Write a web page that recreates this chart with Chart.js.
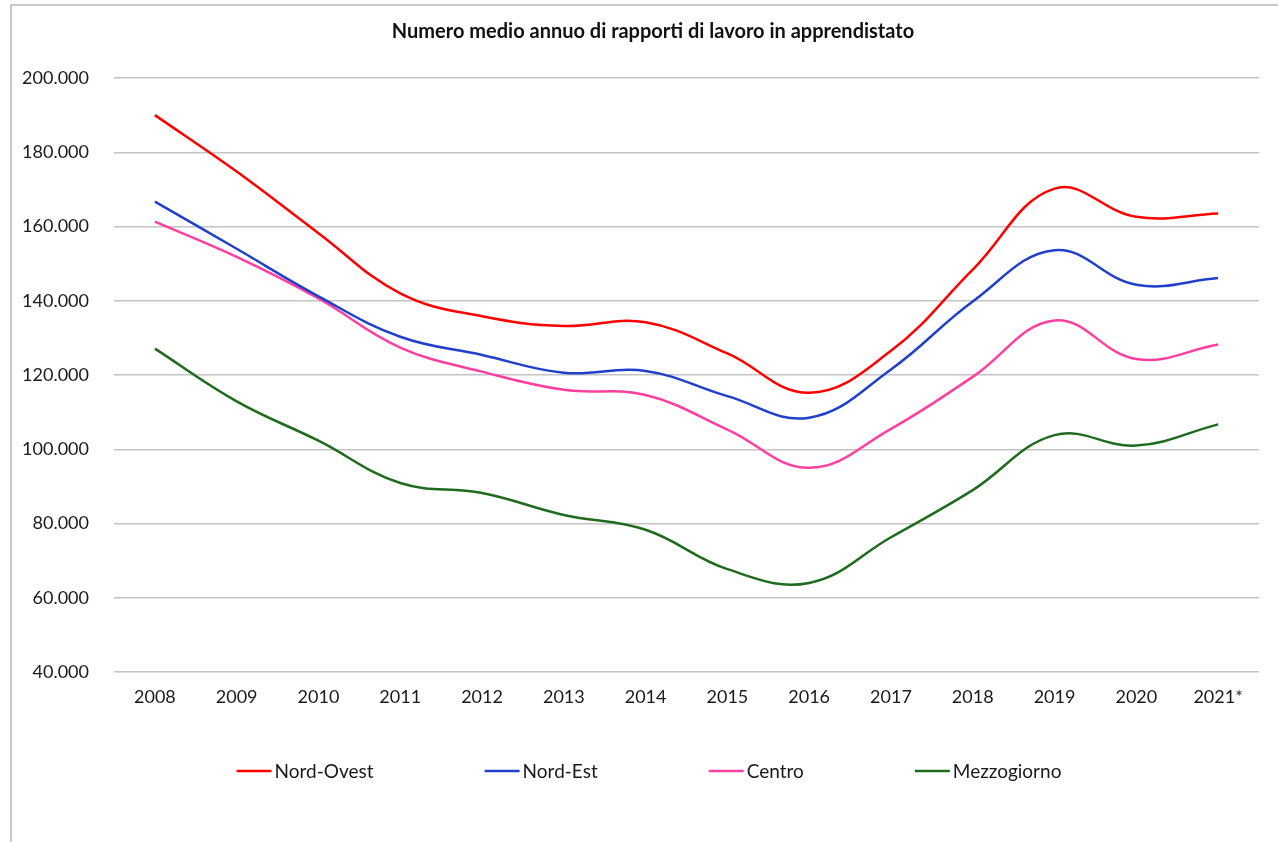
<!DOCTYPE html>
<html>
<head>
<meta charset="utf-8">
<script src="https://cdn.jsdelivr.net/npm/chart.js@4.4.1/dist/chart.umd.min.js"></script>
<style>
  html, body { margin: 0; padding: 0; background: #fff; overflow: hidden; }
  #wrap { position: relative; width: 1278px; height: 842px; }
  #frame { position: absolute; left: 10px; top: 4px; width: 1400px; height: 1000px;
           border: 2px solid #c8c8c8; box-sizing: border-box; }
  canvas { position: absolute; left: 0; top: 0; }
</style>
</head>
<body>
<div id="wrap">
  <div id="frame"></div>
  <canvas id="c" width="1278" height="842"></canvas>
</div>
<script>
const chartTitle = 'Numero medio annuo di rapporti di lavoro in apprendistato';
const categories = ['2008','2009','2010','2011','2012','2013','2014','2015','2016','2017','2018','2019','2020','2021*'];
const seriesNames = ['Nord-Ovest', 'Nord-Est', 'Centro', 'Mezzogiorno'];
const nordOvest   = [190000, 174800, 158200, 142000, 135800, 133200, 134200, 125800, 115200, 126500, 148400, 170200, 162600, 163500];
const nordEst     = [166700, 154000, 141200, 130300, 125400, 120600, 121100, 114300, 108500, 121500, 139800, 153600, 144300, 146100];
const centro      = [161300, 151800, 140600, 127400, 120900, 116000, 114600, 105300, 95000, 105500, 119500, 134700, 124300, 128200];
const mezzogiorno = [127100, 112900, 102300, 90900, 88200, 82300, 78300, 67700, 64000, 76300, 89000, 103800, 101000, 106700];
const yMin = 40000, yMax = 200000, yStep = 20000;
const seriesColors = ['#ff0000', '#2040cc', '#ff3fa0', '#1e6b1e'];

const FONT = 'Lato, "Open Sans", sans-serif';

function fmtIt(v) {
  return String(Math.round(v)).replace(/\B(?=(\d{3})+(?!\d))/g, '.');
}

// Legend drawn under the axis, items laid out with an Excel-like gap
const bottomLegend = {
  id: 'bottomLegend',
  afterDraw(chart, args, opts) {
    const ctx = chart.ctx;
    ctx.save();
    ctx.font = opts.fontSize + 'px ' + FONT;
    ctx.textBaseline = 'middle';
    ctx.textAlign = 'left';
    const items = chart.data.datasets.map(ds => ({
      label: ds.label, color: ds.borderColor,
      w: opts.lineLen + opts.textGap + ctx.measureText(ds.label).width
    }));
    const total = items.reduce((s, it) => s + it.w, 0) + opts.itemGap * (items.length - 1);
    const center = (chart.titleBlock.left + chart.titleBlock.right) / 2 + opts.centerShift;
    let x = center - total / 2;
    const y = opts.y;
    items.forEach(it => {
      ctx.strokeStyle = it.color;
      ctx.lineWidth = 2.5;
      ctx.beginPath();
      ctx.moveTo(x, y);
      ctx.lineTo(x + opts.lineLen, y);
      ctx.stroke();
      ctx.fillStyle = '#1a1a1a';
      ctx.fillText(it.label, x + opts.lineLen + opts.textGap, y + 1);
      x += it.w + opts.itemGap;
    });
    ctx.restore();
  }
};

const seriesData = [nordOvest, nordEst, centro, mezzogiorno];

new Chart(document.getElementById('c'), {
  type: 'line',
  data: {
    labels: categories,
    datasets: seriesNames.map((name, i) => ({
      label: name,
      data: seriesData[i],
      borderColor: seriesColors[i],
      backgroundColor: seriesColors[i],
      borderWidth: 2.5,
      pointRadius: 0,
      pointHoverRadius: 0,
      tension: 0.4,
      fill: false
    }))
  },
  options: {
    responsive: false,
    animation: false,
    devicePixelRatio: 1,
    layout: { padding: { left: 0, right: -28, top: 0, bottom: 0 } },
    plugins: {
      legend: { display: false },
      tooltip: { enabled: false },
      title: {
        display: true,
        text: chartTitle,
        color: '#111',
        font: { family: FONT, size: 20, weight: 'bold' },
        padding: { top: 20, bottom: 34 }
      },
      bottomLegend: { fontSize: 19, lineLen: 35, textGap: 3, itemGap: 111, y: 771, centerShift: -4 }
    },
    scales: {
      x: {
        type: 'category',
        offset: true,
        grid: { display: false, drawTicks: false },
        border: { display: false },
        ticks: { color: '#1a1a1a', padding: 14, font: { family: FONT, size: 18 }, maxRotation: 0, autoSkip: false },
        afterFit(scale) { scale.height = 170; }
      },
      y: {
        min: yMin, max: yMax,
        grid: { color: '#c4c4c4', lineWidth: 1.5, drawTicks: false },
        border: { display: false },
        ticks: {
          stepSize: yStep,
          color: '#1a1a1a',
          padding: 25,
          font: { family: FONT, size: 18 },
          callback: (v) => fmtIt(v)
        },
        afterFit(scale) { scale.width = 114; }
      },
      yRightSpace: {
        type: 'linear',
        position: 'right',
        display: true,
        grid: { display: false, drawTicks: false },
        border: { display: false },
        ticks: { display: false },
        afterFit(scale) { scale.width = 47; }
      }
    }
  },
  plugins: [bottomLegend]
});
</script>
</body>
</html>
